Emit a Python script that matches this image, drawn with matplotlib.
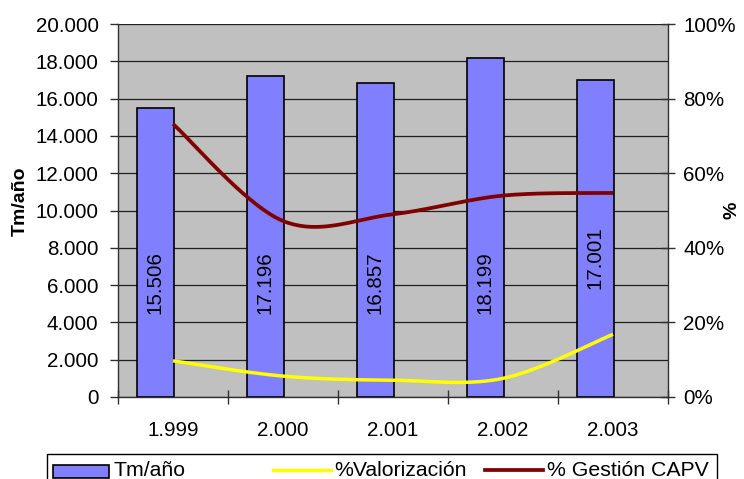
import numpy as np
import matplotlib
matplotlib.use("Agg")
import matplotlib.pyplot as plt
from matplotlib.patches import Rectangle
from matplotlib.lines import Line2D
from matplotlib.ticker import FuncFormatter, MultipleLocator

plt.rcParams['font.family'] = ['Liberation Sans', 'DejaVu Sans']

# ---- data ----
years = ["1.999", "2.000", "2.001", "2.002", "2.003"]
tm_ano = [15506, 17196, 16857, 18199, 17001]
bar_labels = ["15.506", "17.196", "16.857", "18.199", "17.001"]
pct_valorizacion = [9.7, 5.6, 4.5, 5.0, 16.8]
pct_gestion = [73.2, 47.2, 49.0, 54.0, 54.7]
label_y = [6150, 6150, 6150, 6150, 7450]

W, H = 744, 479
FS = 14.8
LFS = 15.3


def smooth(xs, ys, n=40):
    """Excel-like smoothed line: piecewise cubic Bezier (Catmull-Rom)."""
    xs = np.asarray(xs, float)
    ys = np.asarray(ys, float)
    P = np.column_stack([xs, ys])
    Pe = np.vstack([P[0], P, P[-1]])
    out = []
    t = np.linspace(0, 1, n)[:, None]
    for i in range(len(P) - 1):
        p0 = Pe[i + 1]
        p3 = Pe[i + 2]
        c1 = p0 + (Pe[i + 2] - Pe[i]) / 6.0
        c2 = p3 - (Pe[i + 3] - Pe[i + 1]) / 6.0
        seg = ((1 - t) ** 3) * p0 + 3 * ((1 - t) ** 2) * t * c1 + 3 * (1 - t) * t ** 2 * c2 + t ** 3 * p3
        out.append(seg if i == 0 else seg[1:])
    out = np.vstack(out)
    return out[:, 0], out[:, 1]


fig = plt.figure(figsize=(W / 100, H / 100), dpi=100)
fig.patch.set_facecolor('white')
ax = fig.add_axes([118 / W, 1 - 397 / H, (668 - 118) / W, (397 - 24) / H])
ax.set_facecolor('#C0C0C0')

x = np.arange(len(years))
ax.bar(x - 0.16, tm_ano, width=0.33, color='#8080FF', edgecolor='black',
       linewidth=1.2, zorder=3)
for xi, lab, ly in zip(x, bar_labels, label_y):
    ax.text(xi - 0.16, ly, lab, rotation=90, ha='center', va='center',
            fontsize=FS, color='black', zorder=4)

ax.set_xlim(-0.5, len(years) - 0.5)
ax.set_ylim(0, 20000)
ax.yaxis.set_major_locator(MultipleLocator(2000))
ax.yaxis.set_major_formatter(FuncFormatter(lambda v, p: f"{int(v):,}".replace(",", ".")))
ax.grid(axis='y', color='#202020', linewidth=0.9, zorder=1)
ax.set_axisbelow(True)
ax.set_xticks(np.arange(-0.5, len(years) + 0.5, 1.0))
ax.set_xticklabels([])
ax.set_xticks(x, minor=True)
ax.set_xticklabels(years, minor=True, fontsize=FS)
ax.tick_params(axis='x', which='minor', length=0, pad=17)
ax.tick_params(axis='x', which='major', direction='inout', length=10, width=1, color='#303030')
ax.tick_params(axis='y', direction='out', length=6, width=1, labelsize=FS, pad=8, color='#303030')
for s in ['left', 'bottom', 'right']:
    ax.spines[s].set_color('#303030')
    ax.spines[s].set_linewidth(1.0)
ax.spines['top'].set_visible(False)

ax2 = ax.twinx()
ax2.set_ylim(0, 100)
ax2.yaxis.set_major_locator(MultipleLocator(20))
ax2.yaxis.set_major_formatter(FuncFormatter(lambda v, p: f"{int(v)}%"))
ax2.tick_params(axis='y', direction='inout', length=10, width=1, labelsize=FS, pad=6, color='#303030')
for s in ['left', 'bottom', 'right', 'top']:
    ax2.spines[s].set_visible(False)

sx, sy = smooth(x, pct_valorizacion)
ax2.plot(sx, sy, color='#FFFF00', linewidth=2.5, solid_capstyle='butt', zorder=5)
sx, sy = smooth(x, pct_gestion)
ax2.plot(sx, sy, color='#800000', linewidth=2.7, solid_capstyle='butt', zorder=5)

# axis titles
fig.text(20 / W, 1 - 201 / H, "Tm/año", rotation=90, ha='center', va='center',
         fontsize=14, fontweight='bold')
fig.text(732 / W, 1 - 210 / H, "%", rotation=90, ha='center', va='center',
         fontsize=14, fontweight='bold')

# legend (drawn in figure coordinates)
def fx(px):
    return px / W


def fy(py):
    return 1 - py / H


fig.add_artist(Rectangle((fx(47), fy(500)), fx(717) - fx(47), fy(454) - fy(500),
                         transform=fig.transFigure, facecolor='white',
                         edgecolor='black', linewidth=1.0, zorder=10))
fig.add_artist(Rectangle((fx(53), fy(478)), fx(109) - fx(53), fy(465) - fy(478),
                         transform=fig.transFigure, facecolor='#8080FF',
                         edgecolor='black', linewidth=1.2, zorder=11))
fig.add_artist(Line2D([fx(273), fx(331)], [fy(470), fy(470)], transform=fig.transFigure,
                      color='#FFFF00', linewidth=2.5, zorder=11))
fig.add_artist(Line2D([fx(485), fx(543)], [fy(470), fy(470)], transform=fig.transFigure,
                      color='#800000', linewidth=2.7, zorder=11))
for px, txt in [(113, "Tm/año"), (334, "%Valorización"), (547, "% Gestión CAPV")]:
    fig.text(fx(px), fy(476.5), txt, ha='left', va='baseline', fontsize=LFS, zorder=12)

fig.savefig("out.png", dpi=100, facecolor='white')
